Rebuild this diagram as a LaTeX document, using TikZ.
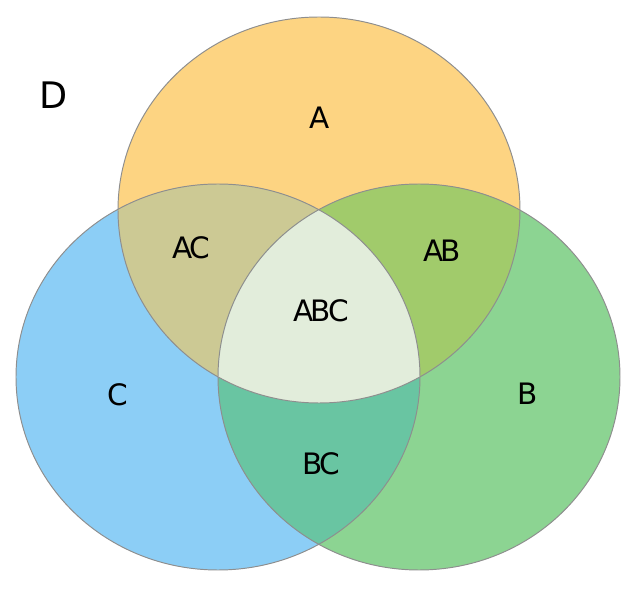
\documentclass[tikz,border=0pt]{standalone}
\usepackage{fontspec}
\setmainfont{DejaVu Sans}
\newfontfamily\vennfont[LetterSpace=-9]{DejaVu Sans}

\definecolor{fillA}{HTML}{FDD482}
\definecolor{fillB}{HTML}{8CD492}
\definecolor{fillC}{HTML}{8CCEF6}
\definecolor{fillAB}{HTML}{A1CB6B}
\definecolor{fillAC}{HTML}{CCC994}
\definecolor{fillBC}{HTML}{69C5A2}
\definecolor{fillABC}{HTML}{E2EDDB}
\definecolor{rim}{HTML}{8E8E8E}

\newcommand{\ellA}{(319,210) ellipse [x radius=201, y radius=193]}
\newcommand{\ellB}{(419,377) ellipse [x radius=201, y radius=193]}
\newcommand{\ellC}{(218,377) ellipse [x radius=202, y radius=193]}

\begin{document}
\begin{tikzpicture}[x=0.02cm, y=-0.02cm,
    outline/.style={draw=rim, line width=0.55pt},
    setlabel/.style={font=\vennfont\fontsize{16.8}{18}\selectfont, text=black}]
    \useasboundingbox (0,0) rectangle (643,594);

    % Sets
    \fill[fillA] \ellA;
    \fill[fillC] \ellC;
    \fill[fillB] \ellB;

    % Pairwise overlaps
    \begin{scope}
        \clip \ellA;
        \fill[fillAC] \ellC;
        \fill[fillAB] \ellB;
    \end{scope}
    \begin{scope}
        \clip \ellB;
        \fill[fillBC] \ellC;
    \end{scope}

    % Triple overlap
    \begin{scope}
        \clip \ellA;
        \clip \ellB;
        \fill[fillABC] \ellC;
    \end{scope}

    % Outlines
    \draw[outline] \ellA;
    \draw[outline] \ellB;
    \draw[outline] \ellC;

    % Labels
    \node[setlabel] (labA) at (320,118) {A};
    \node[setlabel] (labB) at (528,394) {B};
    \node[setlabel] (labC) at (118,395) {C};
    \node[setlabel] (labAB) at (442,251) {AB};
    \node[setlabel] (labAC) at (191,248) {AC};
    \node[setlabel] (labBC) at (321,464) {BC};
    \node[setlabel] (labABC) at (321,311) {ABC};
    \node[font=\fontsize{20.8}{22}\selectfont] (labD) at (54,95) {D};
\end{tikzpicture}
\end{document}
